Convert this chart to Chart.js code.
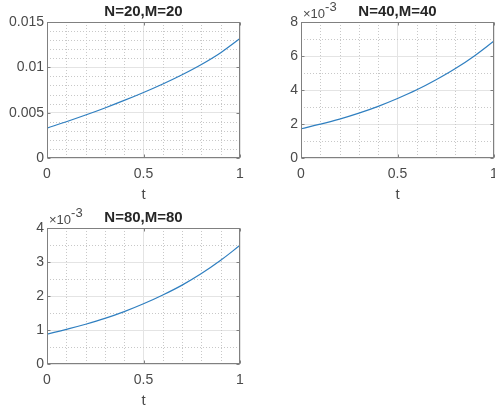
<!DOCTYPE html>
<html>
<head>
<meta charset="utf-8">
<script src="https://cdn.jsdelivr.net/npm/chart.js@4/dist/chart.umd.min.js"></script>
<style>
  html, body { margin: 0; padding: 0; background: #fff; overflow: hidden; width: 495px; height: 412px; }
  canvas { position: absolute; }
</style>
</head>
<body>
<canvas id="c1" width="247" height="206" style="left:0px;top:0px"></canvas>
<canvas id="c2" width="247" height="206" style="left:254px;top:0px"></canvas>
<canvas id="c3" width="247" height="206" style="left:0px;top:206px"></canvas>
<script>
'use strict'

// values
const tValues = [0, 0.1, 0.2, 0.3, 0.4, 0.5, 0.6, 0.7, 0.8, 0.9, 1];
const valuesN20 = [0.00330, 0.00400, 0.00474, 0.00552, 0.00635, 0.00723, 0.00817, 0.00919, 0.01032, 0.01162, 0.01318];
const valuesN40 = [0.00172, 0.00199, 0.00229, 0.00264, 0.00304, 0.00350, 0.00401, 0.00460, 0.00526, 0.00602, 0.00688];
const valuesN80 = [0.00088, 0.00102, 0.00117, 0.00134, 0.00154, 0.00177, 0.00203, 0.00232, 0.00266, 0.00305, 0.00349];

const titles = ['N=20,M=20', 'N=40,M=40', 'N=80,M=80'];
const yMax = [0.015, 0.008, 0.004];
const yMajorStep = [0.005, 0.002, 0.001];
const yMinorStep = [0.001, 0.001, 0.0005];
const yExponent = [0, -3, -3];
const xMajorStep = 0.5;
const xMinorStep = 0.1;

const fontFamily = '"Liberation Sans", Arial, Helvetica, sans-serif';
const axisColor = '#808080';
const textColor = '#4a4a4a';
const majorGridColor = '#e4e4e4';
const minorGridColor = '#c8c8c8';
const lineColor = '#2f7fc0';

function isMultiple(v, step) {
  let r = v / step;
  return Math.abs(r - Math.round(r)) < 1e-6;
}

// box, minor grid, inward ticks and the x10^n label, drawn like matlab does
const matlabAxes = {
  id: 'matlabAxes',
  beforeDatasetsDraw(chart, args, opts) {
    const ctx = chart.ctx;
    const a = chart.chartArea;
    const xs = chart.scales.x;
    const ys = chart.scales.y;
    ctx.save();
    ctx.strokeStyle = minorGridColor;
    ctx.lineWidth = 1;
    ctx.setLineDash([1, 2]);
    ctx.beginPath();
    for (let v = xMinorStep; v < xs.max - 1e-9; v += xMinorStep) {
      if (isMultiple(v, xMajorStep)) continue;
      let px = Math.round(xs.getPixelForValue(v)) + 0.5;
      ctx.moveTo(px, a.top);
      ctx.lineTo(px, a.bottom);
    }
    for (let v = opts.minor; v < ys.max - 1e-12; v += opts.minor) {
      if (isMultiple(v, opts.major)) continue;
      let py = Math.round(ys.getPixelForValue(v)) + 0.5;
      ctx.moveTo(a.left, py);
      ctx.lineTo(a.right, py);
    }
    ctx.stroke();
    ctx.restore();
  },
  afterDatasetsDraw(chart, args, opts) {
    const ctx = chart.ctx;
    const a = chart.chartArea;
    const xs = chart.scales.x;
    const ys = chart.scales.y;
    const l = Math.round(a.left) + 0.5, r = Math.round(a.right) - 0.5;
    const t = Math.round(a.top) + 0.5, b = Math.round(a.bottom) - 0.5;
    ctx.save();
    ctx.strokeStyle = axisColor;
    ctx.lineWidth = 1;
    ctx.strokeRect(l, t, r - l, b - t);
    ctx.beginPath();
    for (let v = 0; v <= xs.max + 1e-9; v += xMajorStep) {
      let px = Math.round(xs.getPixelForValue(v)) + 0.5;
      ctx.moveTo(px, b); ctx.lineTo(px, b - 3);
      ctx.moveTo(px, t); ctx.lineTo(px, t + 3);
    }
    for (let v = 0; v <= ys.max + 1e-12; v += opts.major) {
      let py = Math.round(ys.getPixelForValue(v)) + 0.5;
      ctx.moveTo(l, py); ctx.lineTo(l + 3, py);
      ctx.moveTo(r, py); ctx.lineTo(r - 3, py);
    }
    ctx.stroke();
    if (opts.exponent) {
      ctx.fillStyle = textColor;
      ctx.font = '13px ' + fontFamily;
      ctx.textBaseline = 'alphabetic';
      ctx.textAlign = 'left';
      let base = '\u00d710';
      ctx.fillText(base, a.left + 2, a.top - 4);
      let w = ctx.measureText(base).width;
      ctx.fillText(String(opts.exponent), a.left + 2 + w, a.top - 11);
    }
    ctx.restore();
  }
};

function makeChart(id, k, values) {
  let points = [];
  for (let i = 0; i < tValues.length; i++) {
    points.push({ x: tValues[i], y: values[i] });
  }
  let exp = yExponent[k];
  let ctx = document.getElementById(id).getContext('2d');
  return new Chart(ctx, {
    type: 'line',
    data: {
      datasets: [{
        data: points,
        borderColor: lineColor,
        borderWidth: 1.2,
        pointRadius: 0,
        fill: false,
        tension: 0.4
      }]
    },
    plugins: [matlabAxes],
    options: {
      responsive: false,
      devicePixelRatio: 1,
      animation: false,
      events: [],
      layout: { padding: { left: 0, right: 7, top: 0, bottom: 0 } },
      plugins: {
        legend: { display: false },
        tooltip: { enabled: false },
        title: {
          display: true,
          text: titles[k],
          fullSize: false,
          color: '#262626',
          font: { family: fontFamily, size: 15, weight: 'bold', lineHeight: 1.2 },
          padding: { top: 3, bottom: 1 }
        },
        matlabAxes: { major: yMajorStep[k], minor: yMinorStep[k], exponent: exp }
      },
      scales: {
        x: {
          type: 'linear',
          min: 0,
          max: 1,
          afterFit: function (scale) {
            scale.height = 48;
            scale.paddingLeft = 0;
            scale.paddingRight = 0;
          },
          border: { display: false },
          grid: { color: majorGridColor, drawTicks: false, lineWidth: 1 },
          ticks: {
            stepSize: xMajorStep,
            padding: 8,
            color: textColor,
            font: { family: fontFamily, size: 14 },
            maxRotation: 0,
            callback: function (v) { return String(Math.round(v * 100) / 100); }
          },
          title: {
            display: true,
            text: 't',
            color: textColor,
            font: { family: fontFamily, size: 15 },
            padding: { top: 0, bottom: 2 }
          }
        },
        y: {
          type: 'linear',
          min: 0,
          max: yMax[k],
          afterFit: function (scale) {
            scale.width = 47;
            scale.paddingTop = 0;
            scale.paddingBottom = 0;
          },
          border: { display: false },
          grid: { color: majorGridColor, drawTicks: false, lineWidth: 1 },
          ticks: {
            stepSize: yMajorStep[k],
            padding: 3,
            color: textColor,
            font: { family: fontFamily, size: 14 },
            callback: function (v) {
              if (exp) return String(Math.round(v / Math.pow(10, exp) * 100) / 100);
              return String(Math.round(v * 1e6) / 1e6);
            }
          }
        }
      }
    }
  });
}

makeChart('c1', 0, valuesN20);
makeChart('c2', 1, valuesN40);
makeChart('c3', 2, valuesN80);
</script>
</body>
</html>
